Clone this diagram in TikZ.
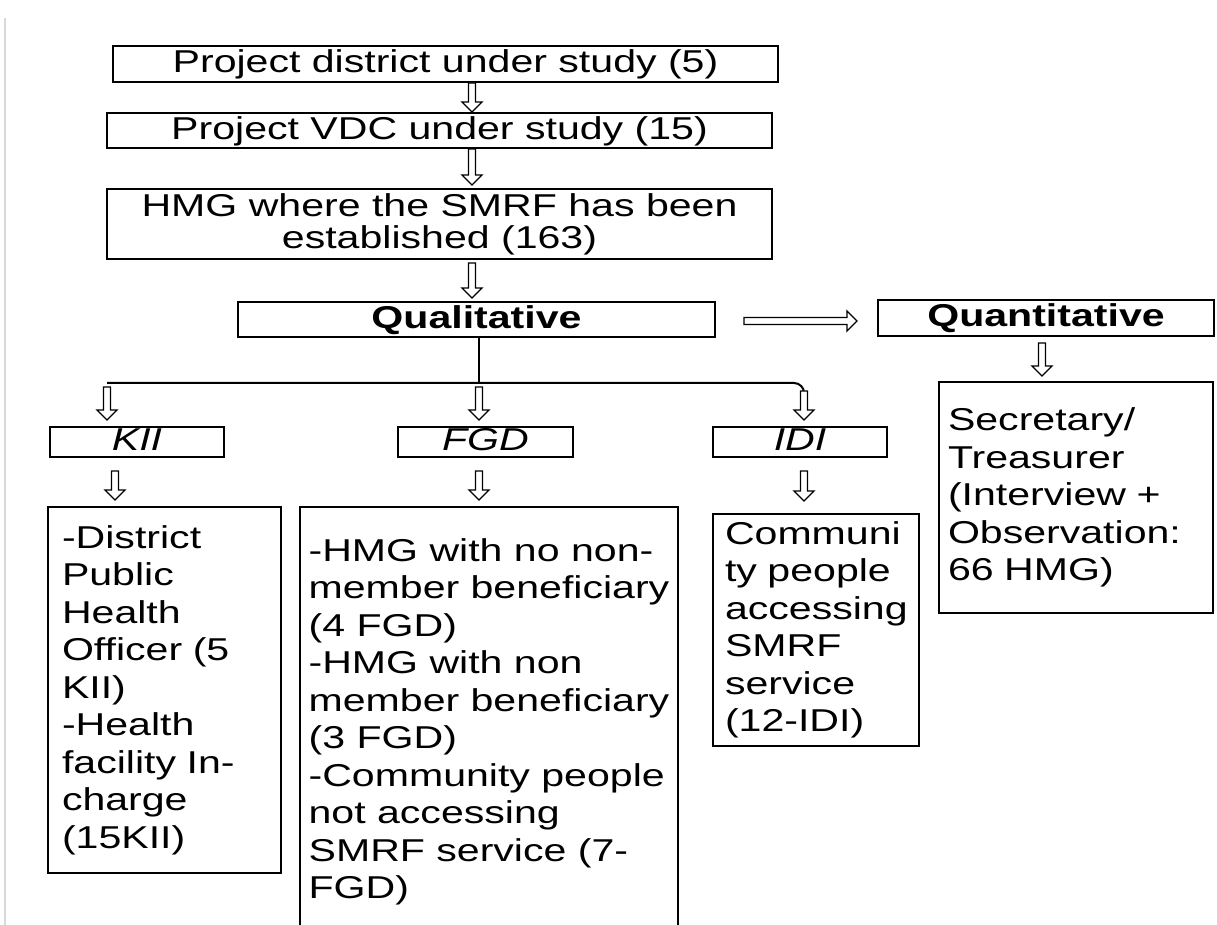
\documentclass[tikz,border=0pt]{standalone}
\usepackage{fontspec}
\setmainfont[FakeStretch=1.3]{Liberation Sans}
\usetikzlibrary{calc}
\def\arrHL{5pt}\def\arrHS{1.75pt}\def\arrHW{5pt}
\tikzset{
  box/.style={draw=black, line width=1pt, inner sep=0pt, font=\fontsize{15.8}{18.75}\selectfont},
  tbox/.style={box, align=left, execute at begin node={\hyphenpenalty=10000\exhyphenpenalty=10000\hbadness=10000\hfuzz=20pt}},
  tree/.style={draw=black, line width=1pt},
  hollow/.style={draw=black, line width=0.7pt, fill=white, line join=miter, to path={
    ($(\tikztotarget)!\arrHL!(\tikztostart)$) coordinate (hb)
    ($(\tikztostart)!\arrHS!90:(\tikztotarget)$) -- ($(hb)!\arrHS!90:(\tikztotarget)$)
    -- ($(hb)!\arrHW!90:(\tikztotarget)$) -- (\tikztotarget)
    -- ($(hb)!\arrHW!-90:(\tikztotarget)$) -- ($(hb)!\arrHS!-90:(\tikztotarget)$)
    -- ($(\tikztostart)!\arrHS!-90:(\tikztotarget)$) -- cycle}},
}
\begin{document}
\begin{tikzpicture}[x=0.5pt,y=-0.5pt]
\useasboundingbox (0,0) rectangle (1217,925);
\clip (0,0) rectangle (1217,925);
\fill[white] (0,0) rectangle (1217,925);
\draw[gray!30, line width=1.2pt] (5,18) -- (5,925);

% top chain
\node[box, minimum width=332.5pt, minimum height=18pt, text height=12pt, text depth=3pt] (b1) at (445.5,64) {Project district under study (5)};
\node[box, minimum width=332.5pt, minimum height=17.5pt, text height=12pt, text depth=3pt] (b2) at (439.5,130.5) {Project VDC under study (15)};
\node[box, minimum width=332.5pt, minimum height=35pt, align=center, font=\fontsize{15.8}{16}\selectfont] (b3) at (439.5,224) {HMG where the SMRF has been\\established (163)};

\node[box, minimum width=238.5pt, minimum height=17.5pt, text height=12pt, text depth=3pt, font=\fontsize{15.8}{18.75}\selectfont\bfseries] (qual) at (476.5,319.5) {Qualitative};
\node[box, minimum width=168pt, minimum height=18pt, text height=12pt, text depth=3pt, font=\fontsize{15.8}{18.75}\selectfont\bfseries] (quant) at (1046,318) {Quantitative};

\node[tbox, text width=128pt, inner xsep=4.5pt, minimum height=115.5pt] (sec) at (1076,497.5) {Secretary/\\Treasurer\\(Interview +\\Observation:\\66 HMG)};

\node[box, minimum width=87pt, minimum height=15pt, text height=11pt, text depth=2pt, font=\fontsize{15.8}{18.75}\selectfont\itshape] (kii) at (137,442) {KII};
\node[box, minimum width=87.5pt, minimum height=15pt, text height=11pt, text depth=2pt, font=\fontsize{15.8}{18.75}\selectfont\itshape] (fgd) at (485.5,442) {FGD};
\node[box, minimum width=87pt, minimum height=15pt, text height=11pt, text depth=2pt, font=\fontsize{15.8}{18.75}\selectfont\itshape] (idi) at (800,442) {IDI};

\node[tbox, text width=102.5pt, inner xsep=7pt, minimum height=183pt] (kiibox) at (164.5,690) {-District\\Public\\Health\\Officer (5\\KII)\\-Health\\facility In-\\charge\\(15KII)};
\node[box, align=left, minimum width=189pt, minimum height=215pt] (fgdbox) at (489,722) {-HMG with no non-\\member beneficiary\\(4 FGD)\\-HMG with non\\member beneficiary\\(3 FGD)\\-Community people\\not accessing\\SMRF service (7-\\FGD)};
\node[tbox, text width=91pt, inner xsep=6pt, minimum height=116pt] (idibox) at (816,630) {Communi\\ty people\\accessing\\SMRF\\service\\(12-IDI)};

% arrow coordinates
\coordinate (ax) at (472,0);
\coordinate (fx) at (479,0);
\coordinate (kx) at (115,0);
\coordinate (hl) at (107,383);
\coordinate (hr) at (804,383);

\coordinate (a1s) at (b1.south -| ax);
\coordinate (a1e) at (b2.north -| ax);
\coordinate (a2s) at (b2.south -| ax);
\coordinate (a2e) at ($(b3.north -| ax)+(0,-3)$);
\coordinate (a3s) at ($(b3.south -| ax)+(0,3)$);
\coordinate (a3e) at ($(qual.north -| ax)+(0,-3)$);
\coordinate (a4s) at ($(qual.east)+(28,1.5)$);
\coordinate (a4e) at ($(a4s -| quant.west)+(-20,0)$);
\coordinate (a5s) at ($(quant.south)+(-4,6)$);
\coordinate (a5e) at ($(a5s |- sec.north)+(0,-5)$);
\coordinate (a6s) at ($(hl)+(0,4)$);
\coordinate (a6e) at ($(kii.north -| hl)+(0,-6)$);
\coordinate (a7s) at ($(fx |- hl)+(0,4)$);
\coordinate (a7e) at ($(fgd.north -| fx)+(0,-6)$);
\coordinate (a8s) at ($(hr)+(0,8)$);
\coordinate (a8e) at ($(idi.north -| hr)+(0,-6)$);
\coordinate (a9s) at ($(kii.south -| kx)+(0,13)$);
\coordinate (a9e) at ($(kiibox.north -| kx)+(0,-6)$);
\coordinate (a10s) at ($(fgd.south -| fx)+(0,13)$);
\coordinate (a10e) at ($(fgdbox.north -| fx)+(0,-6)$);
\coordinate (a11s) at ($(idi.south -| hr)+(0,13)$);
\coordinate (a11e) at ($(idibox.north -| hr)+(0,-12)$);

% tree lines
\draw[tree] (qual.south -| fx) -- (fx |- hl);
\draw[tree, rounded corners=5pt] (hl) -- (hr) -- (a8s);

% hollow arrows
\draw[hollow] (a1s) to (a1e);
\draw[hollow] (a2s) to (a2e);
\draw[hollow] (a3s) to (a3e);
\draw[hollow] (a4s) to (a4e);
\draw[hollow] (a5s) to (a5e);
\draw[hollow] (a6s) to (a6e);
\draw[hollow] (a7s) to (a7e);
\draw[hollow] (a8s) to (a8e);
\draw[hollow] (a9s) to (a9e);
\draw[hollow] (a10s) to (a10e);
\draw[hollow] (a11s) to (a11e);
\end{tikzpicture}
\end{document}
